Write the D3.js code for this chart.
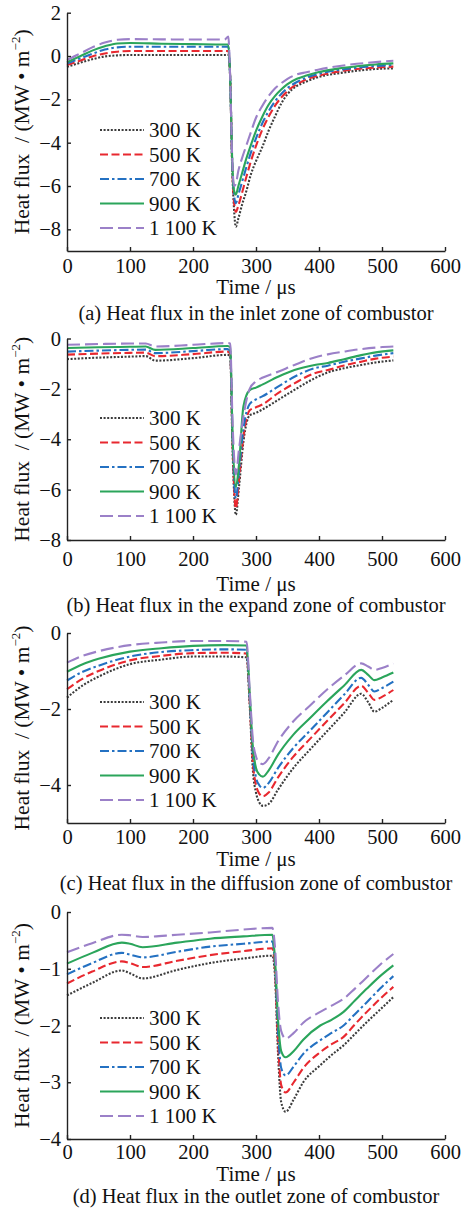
<!DOCTYPE html>
<html lang="en">
<head>
<meta charset="utf-8">
<title>Heat flux in combustor zones</title>
<script src="https://d3js.org/d3.v7.min.js"></script>
<style>
  body { margin: 0; background: #fff; }
  svg { display: block; }
  svg text { font-family: "Liberation Serif", "Times New Roman", serif; fill: #111; }
</style>
</head>
<body>
<div id="chart"></div>
<script>
// legend labels and x ticks shared by all four panels
const temps = ["300 K", "500 K", "700 K", "900 K", "1 100 K"];
const xTicks = [0, 100, 200, 300, 400, 500, 600];

// (a) inlet zone
const inletTime = [0, 20, 40, 60, 80, 100, 150, 200, 250, 256, 259, 262, 265, 268, 272, 278, 285, 292, 300, 310, 320, 330, 340, 350, 365, 380, 400, 430, 460, 490, 518];
const inlet300  = [-0.5, -0.32, -0.15, -0.02, 0.03, 0.05, 0.05, 0.05, 0.05, 0.05, -1.0, -4.9, -7.0, -7.88, -7.5, -6.85, -6.2, -5.45, -4.85, -4.2, -3.45, -2.8, -2.2, -1.76, -1.38, -1.18, -0.96, -0.8, -0.68, -0.6, -0.57];
const inlet500  = [-0.42, -0.22, -0.02, 0.12, 0.2, 0.23, 0.23, 0.23, 0.23, 0.23, -1.0, -4.8, -6.7, -7.2, -6.9, -6.3, -5.55, -4.85, -4.15, -3.4, -2.8, -2.3, -1.92, -1.62, -1.3, -1.08, -0.9, -0.72, -0.6, -0.53, -0.49];
const inlet700  = [-0.35, -0.12, 0.1, 0.3, 0.4, 0.43, 0.43, 0.43, 0.43, 0.43, -1.0, -4.7, -6.4, -6.8, -6.4, -5.8, -5.1, -4.45, -3.8, -3.1, -2.55, -2.1, -1.75, -1.48, -1.2, -1.0, -0.82, -0.65, -0.54, -0.46, -0.42];
const inlet900  = [-0.28, -0.02, 0.25, 0.45, 0.58, 0.6, 0.57, 0.55, 0.53, 0.53, -1.0, -4.6, -6.2, -6.4, -6.0, -5.4, -4.7, -4.1, -3.45, -2.8, -2.25, -1.85, -1.55, -1.3, -1.05, -0.9, -0.74, -0.58, -0.47, -0.39, -0.34];
const inlet1100 = [-0.18, 0.1, 0.4, 0.62, 0.75, 0.78, 0.77, 0.76, 0.76, 0.9, -1.0, -4.5, -6.0, -5.9, -5.3, -4.7, -4.1, -3.5, -2.85, -2.3, -1.85, -1.5, -1.26, -1.05, -0.85, -0.75, -0.62, -0.47, -0.36, -0.28, -0.22];

// (b) expand zone
const expandTime = [0, 50, 100, 125, 140, 200, 255, 259, 263, 268, 273, 280, 290, 300, 310, 335, 361, 393, 414, 440, 467, 490, 518];
const expand300  = [-0.82, -0.76, -0.72, -0.7, -0.88, -0.78, -0.65, -0.7, -4.6, -7.0, -5.9, -4.1, -3.05, -2.95, -2.82, -2.44, -2.04, -1.58, -1.35, -1.18, -1.05, -0.95, -0.87];
const expand500  = [-0.64, -0.6, -0.57, -0.56, -0.7, -0.62, -0.52, -0.6, -4.4, -6.75, -5.6, -3.9, -2.85, -2.73, -2.62, -2.17, -1.78, -1.38, -1.25, -1.07, -0.92, -0.8, -0.72];
const expand700  = [-0.52, -0.48, -0.45, -0.44, -0.58, -0.5, -0.42, -0.5, -4.2, -6.35, -5.3, -3.6, -2.6, -2.42, -2.3, -1.91, -1.52, -1.18, -1.08, -0.92, -0.79, -0.68, -0.58];
const expand900  = [-0.38, -0.35, -0.33, -0.32, -0.45, -0.38, -0.3, -0.35, -4.0, -5.9, -5.0, -2.7, -2.05, -1.95, -1.83, -1.52, -1.25, -1.05, -0.97, -0.82, -0.66, -0.55, -0.47];
const expand1100 = [-0.25, -0.22, -0.2, -0.2, -0.32, -0.25, -0.18, -0.2, -3.5, -5.4, -4.4, -3.1, -2.0, -1.7, -1.56, -1.32, -1.05, -0.75, -0.63, -0.52, -0.42, -0.36, -0.32];

// (c) diffusion zone
const diffTime = [0, 25, 50, 100, 150, 200, 250, 285, 290, 295, 300, 305, 311, 320, 335, 359, 385, 412, 440, 467, 478, 488, 500, 518];
const diff300  = [-1.7, -1.38, -1.15, -0.82, -0.7, -0.62, -0.62, -0.64, -1.9, -3.6, -4.2, -4.45, -4.55, -4.5, -4.12, -3.56, -3.08, -2.6, -2.1, -1.6, -1.82, -2.07, -1.97, -1.76];
const diff500  = [-1.48, -1.2, -1.0, -0.72, -0.6, -0.53, -0.52, -0.54, -1.8, -3.4, -4.0, -4.22, -4.3, -4.2, -3.8, -3.26, -2.8, -2.33, -1.85, -1.39, -1.57, -1.76, -1.68, -1.5];
const diff700  = [-1.25, -1.02, -0.86, -0.62, -0.5, -0.45, -0.43, -0.44, -1.7, -3.2, -3.8, -4.0, -4.08, -3.95, -3.55, -3.03, -2.58, -2.11, -1.62, -1.18, -1.36, -1.54, -1.45, -1.28];
const diff900  = [-1.02, -0.82, -0.68, -0.49, -0.4, -0.34, -0.32, -0.33, -1.6, -3.0, -3.55, -3.72, -3.78, -3.62, -3.2, -2.68, -2.25, -1.81, -1.38, -0.97, -1.1, -1.24, -1.17, -1.04];
const diff1100 = [-0.78, -0.6, -0.48, -0.32, -0.25, -0.21, -0.21, -0.23, -1.5, -2.8, -3.25, -3.4, -3.45, -3.3, -2.85, -2.33, -1.92, -1.5, -1.12, -0.8, -0.88, -0.97, -0.92, -0.8];

// (d) outlet zone
const outletTime = [0, 40, 87, 100, 120, 175, 227, 280, 326, 330, 335, 340, 347, 360, 375, 402, 420, 439, 457, 476, 497, 518];
const outlet300  = [-1.47, -1.25, -1.03, -1.08, -1.17, -1.02, -0.9, -0.82, -0.77, -1.1, -2.5, -3.35, -3.52, -3.3, -3.0, -2.7, -2.52, -2.35, -2.15, -1.94, -1.72, -1.5];
const outlet500  = [-1.26, -1.05, -0.87, -0.9, -0.97, -0.86, -0.76, -0.69, -0.64, -1.0, -2.3, -3.05, -3.18, -3.0, -2.75, -2.47, -2.33, -2.2, -1.98, -1.76, -1.53, -1.32];
const outlet700  = [-1.1, -0.9, -0.72, -0.75, -0.8, -0.7, -0.61, -0.56, -0.52, -0.9, -2.1, -2.75, -2.88, -2.72, -2.5, -2.26, -2.13, -2.0, -1.8, -1.59, -1.35, -1.13];
const outlet900  = [-0.91, -0.72, -0.54, -0.56, -0.62, -0.54, -0.47, -0.43, -0.4, -0.8, -1.9, -2.45, -2.56, -2.45, -2.25, -2.0, -1.9, -1.76, -1.56, -1.35, -1.13, -0.94];
const outlet1100 = [-0.71, -0.55, -0.4, -0.41, -0.44, -0.4, -0.36, -0.31, -0.28, -0.6, -1.6, -2.1, -2.23, -2.13, -1.95, -1.76, -1.65, -1.53, -1.35, -1.15, -0.93, -0.74];

// y ticks per panel
const yTicksA = [2, 0, -2, -4, -6, -8];
const yTicksB = [0, -2, -4, -6, -8];
const yTicksC = [0, -2, -4];
const yTicksD = [0, -1, -2, -3, -4];

const colors = ["#3c3c3c", "#e8282f", "#2471c2", "#2ba55b", "#9b80c8"];
const dashes = ["2,1.6", "8,3.5", "9,3,2.5,3", null, "13,5"];

const panels = [
  { caption: "(a) Heat flux in the inlet zone of combustor", time: inletTime,
    series: [inlet300, inlet500, inlet700, inlet900, inlet1100],
    yDomain: [-9, 2], yTicks: yTicksA, top: 12.7, bottom: 251, pad: 7, timeY: 294, capY: 320, legY: 130 },
  { caption: "(b) Heat flux in the expand zone of combustor", time: expandTime,
    series: [expand300, expand500, expand700, expand900, expand1100],
    yDomain: [-8, 0], yTicks: yTicksB, top: 338.5, bottom: 540, pad: 11, timeY: 590.5, capY: 612, legY: 418 },
  { caption: "(c) Heat flux in the diffusion zone of combustor", time: diffTime,
    series: [diff300, diff500, diff700, diff900, diff1100],
    yDomain: [-5, 0], yTicks: yTicksC, top: 633, bottom: 823, pad: 6, timeY: 866, capY: 890, legY: 702 },
  { caption: "(d) Heat flux in the outlet zone of combustor", time: outletTime,
    series: [outlet300, outlet500, outlet700, outlet900, outlet1100],
    yDomain: [-4, 0], yTicks: yTicksD, top: 912, bottom: 1139, pad: 5, timeY: 1180.5, capY: 1203, legY: 1018 }
];

const w = 463, h = 1208;
const left = 67, right = 445;

const svg = d3.select("#chart").append("svg")
  .attr("width", w)
  .attr("height", h);

panels.forEach(p => {
  const x = d3.scaleLinear().domain([0, 600]).range([left, right]);
  const y = d3.scaleLinear().domain(p.yDomain).range([p.bottom, p.top]);
  const g = svg.append("g");

  const line = d3.line()
    .x((d, i) => x(p.time[i]))
    .y(d => y(d))
    .curve(d3.curveMonotoneX);

  p.series.forEach((s, i) => {
    g.append("path")
      .attr("d", line(s))
      .attr("fill", "none")
      .attr("stroke", colors[i])
      .attr("stroke-width", 2.1)
      .attr("stroke-dasharray", dashes[i]);
  });

  // axes, ticks pointing inward
  const xAxis = g.append("g")
    .attr("transform", `translate(0,${p.bottom})`)
    .call(d3.axisBottom(x).tickValues(xTicks).tickFormat(d3.format("d"))
      .tickSize(-4).tickSizeOuter(0).tickPadding(p.pad));
  const yAxis = g.append("g")
    .attr("transform", `translate(${left},0)`)
    .call(d3.axisLeft(y).tickValues(p.yTicks).tickFormat(d3.format("d"))
      .tickSize(-4).tickSizeOuter(0).tickPadding(6));

  [xAxis, yAxis].forEach(a => {
    a.attr("font-family", null).attr("font-size", 20.5);
    a.selectAll("path, line").attr("stroke", "#222").attr("stroke-width", 1.4);
  });

  // y title
  const yt = g.append("text")
    .attr("transform", `translate(29,${(p.top + p.bottom) / 2}) rotate(-90)`)
    .attr("text-anchor", "middle")
    .attr("font-size", 21.5);
  yt.append("tspan").text("Heat flux\u00a0 / (MW \u2022 m");
  yt.append("tspan").attr("dy", -9).attr("font-size", 13).text("\u22122");
  yt.append("tspan").attr("dy", 9).text(")");

  g.append("text")
    .attr("x", (left + right) / 2)
    .attr("y", p.timeY)
    .attr("text-anchor", "middle")
    .attr("font-size", 21)
    .text("Time / \u03bcs");

  g.append("text")
    .attr("x", (left + right) / 2)
    .attr("y", p.capY)
    .attr("text-anchor", "middle")
    .attr("font-size", 20.5)
    .text(p.caption);

  // legend
  const leg = g.append("g");
  temps.forEach((t, i) => {
    const ly = p.legY + i * 24.5;
    leg.append("line")
      .attr("x1", 100).attr("x2", 144)
      .attr("y1", ly).attr("y2", ly)
      .attr("stroke", colors[i])
      .attr("stroke-width", 2.2)
      .attr("stroke-dasharray", dashes[i]);
    leg.append("text")
      .attr("x", 149)
      .attr("y", ly)
      .attr("dy", "0.35em")
      .attr("font-size", 21)
      .text(t);
  });
});
</script>
</body>
</html>
